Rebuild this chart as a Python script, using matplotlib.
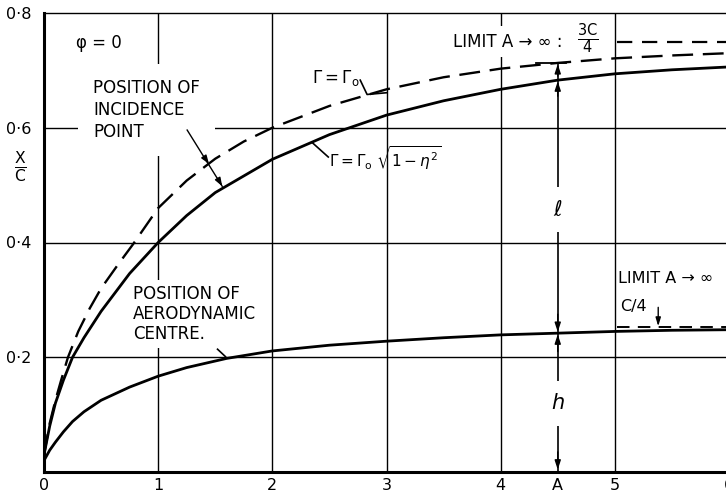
import matplotlib
matplotlib.use("Agg")
import matplotlib.pyplot as plt

plt.rcParams['lines.scale_dashes'] = False
plt.rcParams['font.family'] = ['DejaVu Sans']

# aspect ratio A (x axis) and chordwise position x/c
A_solid = [0, 0.05, 0.1, 0.17, 0.25, 0.35, 0.5, 0.75, 1.0, 1.25, 1.5, 2.0,
           2.5, 3.0, 3.5, 4.0, 4.5, 5.0, 5.5, 6.0]
x_solid = [0.03, 0.08, 0.12, 0.16, 0.20, 0.234, 0.28, 0.346, 0.40, 0.447, 0.487, 0.545,
           0.588, 0.622, 0.647, 0.667, 0.683, 0.694, 0.701, 0.706]

A_dash = [0, 0.05, 0.1, 0.15, 0.21, 0.3, 0.4, 0.5, 0.65, 0.78, 1.0, 1.25,
          1.5, 1.75, 2.0, 2.5, 3.0, 3.5, 4.0, 4.5, 5.0, 5.5, 6.0]
x_dash = [0.03, 0.085, 0.125, 0.16, 0.20, 0.245, 0.285, 0.32, 0.362, 0.397, 0.46, 0.508,
          0.546, 0.576, 0.60, 0.638, 0.667, 0.688, 0.703, 0.713, 0.721, 0.726, 0.730]

A_ac = [0, 0.05, 0.1, 0.17, 0.25, 0.35, 0.5, 0.75, 1.0, 1.25, 1.6, 2.0,
        2.5, 3.0, 3.5, 4.0, 4.5, 5.0, 5.5, 6.0]
x_ac = [0.02, 0.038, 0.052, 0.07, 0.088, 0.105, 0.125, 0.148, 0.167, 0.182, 0.198, 0.211,
        0.221, 0.228, 0.234, 0.239, 0.242, 0.245, 0.247, 0.248]

limit_incidence = 0.75
limit_ac = 0.25
A_mark = 4.5

xticks = [0, 1, 2, 3, 4, 4.5, 5, 6]
xticklabels = ['0', '1', '2', '3', '4', 'A', '5', '6']
yticks = [0.2, 0.4, 0.6, 0.8]
yticklabels = ['0·2', '0·4', '0·6', '0·8']

fig = plt.figure(figsize=(7.26, 4.97), dpi=100)
ax = fig.add_axes([44 / 726, 25 / 497, 685 / 726, 459 / 497])
ax.set_xlim(0, 6)
ax.set_ylim(0, 0.8)

# grid drawn by hand (no line at A)
for gx in range(1, 6):
    ax.axvline(gx, color='black', lw=1.0, zorder=1)
for gy in [0.2, 0.4, 0.6]:
    ax.axhline(gy, color='black', lw=1.0, zorder=1)

ax.spines['left'].set_linewidth(2.2)
ax.spines['bottom'].set_linewidth(2.2)
ax.spines['top'].set_linewidth(1.0)
ax.spines['top'].set_zorder(6)
ax.spines['right'].set_visible(False)

ax.set_xticks(xticks, xticklabels)
ax.set_yticks(yticks, yticklabels)
ax.tick_params(axis='x', length=0, pad=4, labelsize=11.5)
ax.tick_params(axis='y', length=0, pad=9, labelsize=11.5)

# curves
ax.plot(A_solid, x_solid, color='black', lw=2.0, zorder=4, solid_capstyle='round')
ax.plot(A_dash, x_dash, color='black', lw=1.7, zorder=4, dashes=(15, 7))
ax.plot(A_ac, x_ac, color='black', lw=2.0, zorder=4)

# limit lines
ax.plot([5.02, 6.0], [limit_incidence, limit_incidence], color='black', lw=1.6,
        dashes=(11, 7), zorder=4)
ax.plot([5.02, 6.0], [limit_ac + 0.003, limit_ac + 0.003], color='black', lw=1.4,
        dashes=(9, 6), zorder=4)

tk = dict(fontsize=12, color='black', zorder=3)

ax.text(0.28, 0.748, 'φ = 0', fontsize=12, va='center', ha='left', zorder=3)

ax.text(0.43, 0.631, 'POSITION OF\nINCIDENCE\nPOINT', ha='left', va='center',
        linespacing=1.3, bbox=dict(facecolor='white', edgecolor='none',
                                   boxstyle='square,pad=0.9'), **tk)
ax.text(0.78, 0.275, 'POSITION OF\nAERODYNAMIC\nCENTRE.', ha='left', va='center',
        linespacing=1.15, bbox=dict(facecolor='white', edgecolor='none',
                                    boxstyle='square,pad=0.3'), **tk)

ax.text(2.35, 0.686, r'$\Gamma = \Gamma_{\rm o}$', ha='left', va='center',
        fontsize=12, zorder=3)
ax.text(2.5, 0.547, r'$\Gamma = \Gamma_{\rm o}\ \sqrt{1-\eta^2}$', ha='left',
        va='center', fontsize=11, zorder=3)

ax.text(3.585, 0.75, 'LIMIT A → ∞ :', ha='left', va='center',
        bbox=dict(facecolor='white', edgecolor='none', boxstyle='square,pad=0.4'), **tk)
ax.text(4.76, 0.755, r'$\frac{\mathrm{3C}}{\mathrm{4}}$', ha='center', va='center',
        fontsize=15, zorder=3,
        bbox=dict(facecolor='white', edgecolor='none', boxstyle='square,pad=0.15'))
ax.text(5.03, 0.338, 'LIMIT A → ∞', ha='left', va='center', fontsize=11.5, zorder=3)
ax.text(5.05, 0.288, 'C/4', ha='left', va='center', fontsize=11.5, zorder=3)

# leader lines
ax.plot([1.254, 1.561], [0.596, 0.498], color='black', lw=1.0, zorder=4)
for p0, p1 in [((1.40, 0.55), (1.445, 0.537)), ((1.52, 0.512), (1.561, 0.498))]:
    ax.annotate('', xy=p1, xytext=p0, zorder=5,
                arrowprops=dict(arrowstyle='-|>,head_length=0.5,head_width=0.18',
                                color='black', lw=1.0, shrinkA=0, shrinkB=0))
ax.plot([2.77, 2.83, 3.0], [0.683, 0.658, 0.661], color='black', lw=1.2, zorder=4)
ax.plot([2.49, 2.35], [0.549, 0.574], color='black', lw=1.2, zorder=4)
ax.plot([1.52, 1.59], [0.214, 0.201], color='black', lw=1.2, zorder=4)
ax.annotate('', xy=(5.38, 0.254), xytext=(5.38, 0.287), zorder=5,
            arrowprops=dict(arrowstyle='-|>,head_length=0.5,head_width=0.15',
                            color='black', lw=1.0, shrinkA=0, shrinkB=0))

# dimension lines l and h at A
ax.plot([4.31, 4.57], [0.713, 0.713], color='black', lw=1.3, zorder=4)
ax.plot([A_mark, A_mark], [0.713, 0.0], color='black', lw=1.2, zorder=2)
arrows = [((A_mark, 0.69), (A_mark, 0.711)), ((A_mark, 0.655), (A_mark, 0.681)),
          ((A_mark, 0.275), (A_mark, 0.244)), ((A_mark, 0.21), (A_mark, 0.240)),
          ((A_mark, 0.035), (A_mark, 0.004))]
for p0, p1 in arrows:
    ax.annotate('', xy=p1, xytext=p0, zorder=5,
                arrowprops=dict(arrowstyle='-|>,head_length=0.55,head_width=0.18',
                                color='black', lw=1.0, shrinkA=0, shrinkB=0))
ax.text(A_mark, 0.457, r'$\ell$', ha='center', va='center', fontsize=15, zorder=3,
        bbox=dict(facecolor='white', edgecolor='none', boxstyle='square,pad=0.6'))
ax.text(A_mark, 0.12, r'$h$', ha='center', va='center', fontsize=15, zorder=3,
        bbox=dict(facecolor='white', edgecolor='none', boxstyle='square,pad=0.6'))

fig.text(20 / 726, 1 - 167 / 497, r'$\frac{\mathrm{X}}{\mathrm{C}}$', ha='center',
         va='center', fontsize=16)

fig.savefig('out.png', dpi=100)
